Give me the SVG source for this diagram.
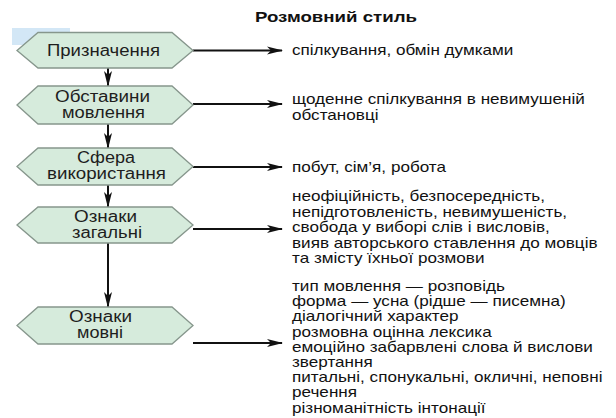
<svg xmlns="http://www.w3.org/2000/svg" width="616" height="418" viewBox="0 0 616 418">
<style>
.hex{fill:#d6ebdc;stroke:#86968c;stroke-width:1.3}
.lbl{font-family:"Liberation Sans",Arial,sans-serif;font-size:16px;fill:#1e1e1e}
.txt{font-family:"Liberation Sans",Arial,sans-serif;font-size:14.2px;fill:#111}
.ttl{font-family:"Liberation Sans",Arial,sans-serif;font-size:14.5px;font-weight:bold;fill:#111}
.con{stroke:#111;stroke-width:2;fill:none;marker-end:url(#ah)}
</style>
<defs>
<marker id="ah" markerWidth="16" markerHeight="9" refX="15" refY="4.5" orient="auto" markerUnits="userSpaceOnUse">
<path d="M0,0.5 L16,4.5 L0,8.5 L4,4.5 Z" fill="#111"/>
</marker>
</defs>
<rect width="616" height="418" fill="#fff"/>
<rect x="12" y="28" width="58" height="17" fill="#d3e7f6"/>
<text class="ttl" x="255" y="22" textLength="162" lengthAdjust="spacingAndGlyphs">Розмовний стиль</text>
<g id="connectors">
<line class="con" x1="193" y1="50.5" x2="282" y2="50.5"/>
<line class="con" x1="193" y1="104" x2="282" y2="104"/>
<line class="con" x1="193" y1="167" x2="282" y2="167"/>
<line class="con" x1="193" y1="229" x2="282" y2="229"/>
<line class="con" x1="193" y1="343" x2="282" y2="343"/>
<line class="con" x1="108" y1="68" x2="108" y2="86"/>
<line class="con" x1="108" y1="124" x2="108" y2="148"/>
<line class="con" x1="108" y1="185" x2="108" y2="207"/>
<line class="con" x1="108" y1="243" x2="108" y2="307"/>
</g>
<g id="n1">
<polygon class="hex" points="17,50.5 38,32.5 172,32.5 193,50.5 172,68 38,68"/>
<text class="lbl" x="47" y="56" textLength="113" lengthAdjust="spacingAndGlyphs">Призначення</text>
</g>
<g id="n2">
<polygon class="hex" points="17,105 38,86 172,86 193,105 172,124 38,124"/>
<text class="lbl" x="55" y="102" textLength="95" lengthAdjust="spacingAndGlyphs">Обставини</text>
<text class="lbl" x="62" y="118" textLength="83" lengthAdjust="spacingAndGlyphs">мовлення</text>
</g>
<g id="n3">
<polygon class="hex" points="17,166.5 38,148 172,148 193,166.5 172,185 38,185"/>
<text class="lbl" x="77" y="163" textLength="58" lengthAdjust="spacingAndGlyphs">Сфера</text>
<text class="lbl" x="47" y="179" textLength="119" lengthAdjust="spacingAndGlyphs">використання</text>
</g>
<g id="n4">
<polygon class="hex" points="17,225 38,207 172,207 193,225 172,243 38,243"/>
<text class="lbl" x="74" y="222" textLength="63" lengthAdjust="spacingAndGlyphs">Ознаки</text>
<text class="lbl" x="72" y="238" textLength="70" lengthAdjust="spacingAndGlyphs">загальні</text>
</g>
<g id="n5">
<polygon class="hex" points="17,325.5 38,307 172,307 193,325.5 172,344 38,344"/>
<text class="lbl" x="69" y="322" textLength="63" lengthAdjust="spacingAndGlyphs">Ознаки</text>
<text class="lbl" x="77" y="338" textLength="46" lengthAdjust="spacingAndGlyphs">мовні</text>
</g>
<g transform="translate(292 0) scale(1.205 1)">
<g id="t1"><text class="txt" x="0" y="55.5">спілкування, обмін думками</text></g>
<g id="t2">
<text class="txt" x="0" y="104.5">щоденне спілкування в невимушеній</text>
<text class="txt" x="0" y="120">обстановці</text>
</g>
<g id="t3"><text class="txt" x="0" y="172">побут, сім’я, робота</text></g>
<g id="t4">
<text class="txt" x="0" y="201.5">неофіційність, безпосередність,</text>
<text class="txt" x="0" y="217">непідготовленість, невимушеність,</text>
<text class="txt" x="0" y="232.5">свобода у виборі слів і висловів,</text>
<text class="txt" x="0" y="248">вияв авторського ставлення до мовців</text>
<text class="txt" x="0" y="263.5">та змісту їхньої розмови</text>
</g>
<g id="t5">
<text class="txt" x="0" y="291">тип мовлення — розповідь</text>
<text class="txt" x="0" y="306.2">форма — усна (рідше — писемна)</text>
<text class="txt" x="0" y="321.4">діалогічний характер</text>
<text class="txt" x="0" y="336.6">розмовна оцінна лексика</text>
<text class="txt" x="0" y="351.8">емоційно забарвлені слова й вислови</text>
<text class="txt" x="0" y="367">звертання</text>
<text class="txt" x="0" y="382.2">питальні, спонукальні, окличні, неповні</text>
<text class="txt" x="0" y="397.4">речення</text>
<text class="txt" x="0" y="412.6">різноманітність інтонації</text>
</g>
</g>
</svg>
